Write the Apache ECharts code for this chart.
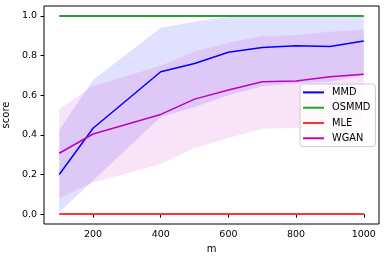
<!DOCTYPE html>
<html><head><meta charset="utf-8">
<script src="https://cdn.jsdelivr.net/npm/echarts@6/dist/echarts.min.js"></script>
<style>html,body{margin:0;padding:0;background:#fff}#c{width:386px;height:262px}</style>
</head><body><div id="c"></div>
<script>
const m = [100,200,400,500,600,700,800,900,1000];
const mmd = [0.20,0.433,0.718,0.76,0.817,0.841,0.849,0.846,0.873];
const mmdLo = [0.01,0.17,0.49,0.54,0.60,0.645,0.66,0.668,0.70];
const mmdHi = [0.424,0.676,0.94,0.97,0.995,1.0,1.0,1.0,1.0];
const wgan = [0.307,0.404,0.503,0.58,0.626,0.668,0.671,0.693,0.706];
const wganLo = [0.08,0.16,0.253,0.334,0.384,0.43,0.435,0.44,0.46];
const wganHi = [0.53,0.646,0.748,0.82,0.864,0.898,0.903,0.92,0.93];
const osmmd = [1,1,1,1,1,1,1,1,1];
const mle = [0,0,0,0,0,0,0,0,0];
const xTicks = [200,400,600,800,1000];
const yTicks = [0,0.2,0.4,0.6,0.8,1.0];

const font = 'DejaVu Sans';
function pairs(ys){ return m.map((x,i)=>[x,ys[i]]); }
function band(lo, hi, color){
  return {
    type:'custom', silent:true, z:1, clip:true,
    data:[[m[0], lo[0]]],
    renderItem:function(params, api){
      const pts=[];
      for(let i=0;i<m.length;i++) pts.push(api.coord([m[i],hi[i]]));
      for(let i=m.length-1;i>=0;i--) pts.push(api.coord([m[i],lo[i]]));
      return {type:'polygon', shape:{points:pts}, style:{fill:color}};
    }
  };
}
function line(name, ys, color, w){
  return {type:'line', name:name, data:pairs(ys), symbol:'none', z:3,
    lineStyle:{color:color, width:w}, itemStyle:{color:color}};
}
const chart = echarts.init(document.getElementById('c'), null, {renderer:'canvas'});
chart.setOption({
  animation:false,
  grid:{left:44, right:7, top:6, bottom:38, containLabel:false, outerBoundsMode:'none',
    show:true, borderColor:'#000', borderWidth:1, backgroundColor:'transparent'},
  xAxis:{type:'value', min:55, max:1045, name:'m', nameLocation:'middle', nameGap:20,
    nameTextStyle:{fontFamily:font, fontSize:10, color:'#000'},
    axisLine:{show:false}, splitLine:{show:false},
    axisTick:{show:true, length:3.5, inside:false, customValues:xTicks, lineStyle:{color:'#000'}},
    axisLabel:{customValues:xTicks, margin:6, fontFamily:font, fontSize:9.5, color:'#000',
      formatter:v=>String(v)}},
  yAxis:{type:'value', min:-0.05, max:1.05, name:'score', nameLocation:'middle', nameGap:27, nameRotate:90,
    nameTextStyle:{fontFamily:font, fontSize:10, color:'#000'},
    axisLine:{show:false}, splitLine:{show:false},
    axisTick:{show:true, length:3.5, inside:false, customValues:yTicks, lineStyle:{color:'#000'}},
    axisLabel:{customValues:yTicks, margin:7, fontFamily:font, fontSize:9.5, color:'#000',
      formatter:v=>v.toFixed(1)}},
  legend:{orient:'vertical', left:300, top:84, data:['MMD','OSMMD','MLE','WGAN'],
    icon:'rect', itemWidth:21, itemHeight:2, itemGap:3.3, selectedMode:false,
    padding:[2.4,5,2.4,3], backgroundColor:'rgba(255,255,255,0.8)', borderColor:'#ccc', borderWidth:1, borderRadius:3,
    textStyle:{fontFamily:font, fontSize:9.8, color:'#000', lineHeight:12, padding:[0,0,0,3]}},
  series:[
    band(mmdLo, mmdHi, 'rgba(0,0,255,0.12)'),
    band(wganLo, wganHi, 'rgba(191,0,191,0.11)'),
    line('MMD', mmd, '#0000ff', 1.5),
    line('OSMMD', osmmd, '#2ca02c', 2),
    line('MLE', mle, '#ff3333', 2),
    line('WGAN', wgan, '#bf00bf', 1.5)
  ]
});
</script></body></html>
